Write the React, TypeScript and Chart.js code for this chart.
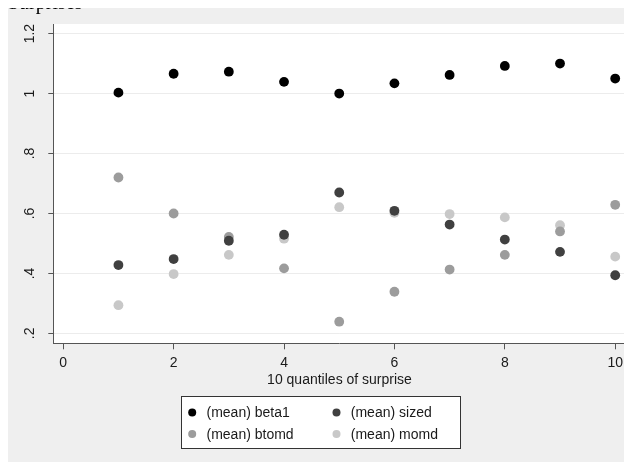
import React, { useEffect, useRef } from "react";
import { Chart, registerables } from "chart.js";

Chart.register(...registerables);

const quantiles = [1, 2, 3, 4, 5, 6, 7, 8, 9, 10];
const beta1 = [1.003, 1.066, 1.073, 1.039, 1.0, 1.034, 1.062, 1.092, 1.1, 1.05];
const sized = [0.428, 0.448, 0.509, 0.529, 0.67, 0.609, 0.563, 0.513, 0.472, 0.394];
const btomd = [0.72, 0.6, 0.522, 0.417, 0.239, 0.339, 0.413, 0.462, 0.54, 0.629];
const momd = [0.294, 0.398, 0.462, 0.516, 0.621, 0.602, 0.598, 0.587, 0.561, 0.456];

const seriesLabels = ["(mean) beta1", "(mean) sized", "(mean) btomd", "(mean) momd"];
const xTicks = [0, 2, 4, 6, 8, 10];
const yTicks = [0.2, 0.4, 0.6, 0.8, 1.0, 1.2];
const yTickLabels = [".2", ".4", ".6", ".8", "1", "1.2"];
const xTitle = "10 quantiles of surprise";
const pageTitle = "Surprises";

const COLORS = ["#000000", "#404040", "#9c9c9c", "#c8c8c8"];
const FONT = "'Liberation Sans', Arial, Helvetica, sans-serif";
const TEXT = "#1a1a1a";
const AXIS = "#555555";

export default function App() {
  const ref = useRef<HTMLCanvasElement | null>(null);

  useEffect(() => {
    const canvas = ref.current;
    if (!canvas) return;
    const seriesValues = [beta1, sized, btomd, momd];
    const drawOrder = [0, 1, 2, 3]; // lower order drawn last (on top)
    const datasets = seriesValues.map((vals, i) => ({
      label: seriesLabels[i],
      data: quantiles.map((q, j) => ({ x: q, y: vals[j] })),
      backgroundColor: COLORS[i],
      borderColor: COLORS[i],
      borderWidth: 0,
      pointRadius: 4.9,
      pointHoverRadius: 4.9,
      showLine: false,
      order: drawOrder[i],
    }));

    const plotBg = {
      id: "plotBg",
      beforeDraw(chart: any) {
        const { ctx, chartArea } = chart;
        ctx.save();
        ctx.fillStyle = "#ffffff";
        ctx.fillRect(chartArea.left, chartArea.top, chartArea.right - chartArea.left, chartArea.bottom - chartArea.top);
        ctx.restore();
      },
    };

    const yLabels = {
      id: "yLabels",
      afterDraw(chart: any) {
        const { ctx } = chart;
        const ys = chart.scales.y;
        ctx.save();
        ctx.fillStyle = TEXT;
        ctx.font = `14px ${FONT}`;
        ctx.textAlign = "center";
        ctx.textBaseline = "alphabetic";
        yTicks.forEach((v, i) => {
          const py = ys.getPixelForValue(v);
          ctx.save();
          ctx.translate(ys.right - 19.3, py);
          ctx.rotate(-Math.PI / 2);
          ctx.fillText(yTickLabels[i], 0, 0);
          ctx.restore();
        });
        ctx.restore();
      },
    };

    const boxLegend = {
      id: "boxLegend",
      afterDraw(chart: any) {
        const { ctx, chartArea } = chart;
        const w = 279;
        const h = 52;
        const left = Math.round(chart.width / 2 - w / 2) + 0.5;
        const top = Math.round(chartArea.bottom + 52.4) + 0.5;
        ctx.save();
        ctx.fillStyle = "#ffffff";
        ctx.fillRect(left, top, w, h);
        ctx.strokeStyle = "#333333";
        ctx.lineWidth = 1;
        ctx.strokeRect(left, top, w, h);
        ctx.font = `14px ${FONT}`;
        ctx.textBaseline = "middle";
        ctx.textAlign = "left";
        const colX = [left + 10.7, left + 155];
        const rowY = [top + 16, top + 37.6];
        chart.data.datasets.forEach((ds: any, i: number) => {
          const c = i % 2;
          const r = Math.floor(i / 2);
          ctx.fillStyle = ds.backgroundColor;
          ctx.beginPath();
          ctx.arc(colX[c], rowY[r], 4, 0, Math.PI * 2);
          ctx.fill();
          ctx.fillStyle = TEXT;
          ctx.fillText(ds.label, colX[c] + 14.3, rowY[r] + 1);
        });
        ctx.restore();
      },
    };

    const chart = new Chart(canvas, {
      type: "scatter",
      data: { datasets },
      plugins: [plotBg, yLabels, boxLegend],
      options: {
        animation: false,
        responsive: false,
        devicePixelRatio: 1,
        layout: { padding: { left: 0, right: 6.3, top: 16, bottom: 0 } },
        plugins: {
          legend: { display: false },
          tooltip: { enabled: false },
          title: { display: false },
        },
        scales: {
          x: {
            type: "linear",
            min: -0.18,
            max: 10.19,
            afterBuildTicks: (scale: any) => {
              scale.ticks = xTicks.map((v) => ({ value: v }));
            },
            afterFit: (scale: any) => {
              scale.height = 454 - 335.3;
              scale.paddingLeft = 0;
              scale.paddingRight = 0;
            },
            border: { display: true, color: AXIS, width: 1 },
            grid: {
              drawOnChartArea: false,
              drawTicks: true,
              tickLength: 6,
              tickColor: AXIS,
              color: AXIS,
            },
            ticks: {
              color: TEXT,
              font: { family: FONT, size: 14 },
              padding: 5,
              maxRotation: 0,
              minRotation: 0,
              callback: (v: any) => String(v),
            },
            title: {
              display: true,
              text: xTitle,
              color: TEXT,
              font: { family: FONT, size: 14 },
              padding: { top: 1, bottom: 73 },
            },
          },
          y: {
            type: "linear",
            min: 0.167,
            max: 1.232,
            afterBuildTicks: (scale: any) => {
              scale.ticks = yTicks.map((v) => ({ value: v }));
            },
            afterFit: (scale: any) => {
              scale.width = 45.3;
            },
            border: { display: true, color: AXIS, width: 1 },
            grid: {
              drawOnChartArea: true,
              drawTicks: true,
              tickLength: 5,
              tickColor: AXIS,
              color: "#ececec",
              lineWidth: 1,
            },
            ticks: { display: false },
          },
        },
      },
    } as any);

    return () => chart.destroy();
  }, []);

  return (
    <div style={{ position: "relative" }}>
      <div
        style={{
          position: "absolute",
          left: 0,
          top: -17,
          height: 17,
          overflow: "visible",
          fontFamily: "'Liberation Serif', 'Times New Roman', serif",
          fontSize: 20,
          lineHeight: "23px",
          color: "#000",
          whiteSpace: "nowrap",
          zIndex: 1,
        }}
      >
        {pageTitle}
      </div>
      <div style={{ width: 624, height: 454, background: "#efefef" }}>
        <canvas ref={ref} width={624} height={454} style={{ display: "block" }} />
      </div>
    </div>
  );
}
